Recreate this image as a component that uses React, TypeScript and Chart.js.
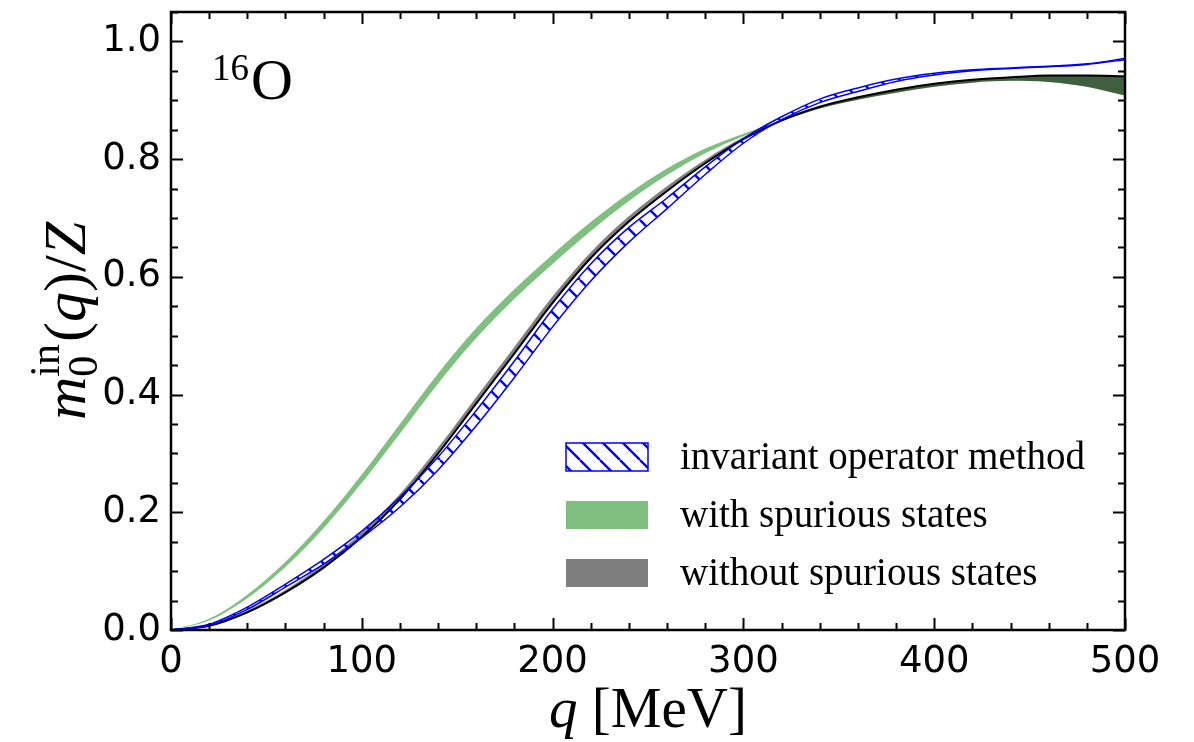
import React, { useEffect, useRef } from "react";
import { Chart, registerables } from "chart.js";

Chart.register(...registerables);

// momentum transfer grid [MeV]
const qValues = [0, 20, 40, 60, 80, 100, 120, 140, 160, 180, 200, 220, 240, 260, 280, 300, 320, 340, 360, 380, 400, 420, 440, 460, 480, 500];

// band: with spurious states
const withSpuriousLow = [0, 0.016, 0.054, 0.107, 0.173, 0.25, 0.334, 0.419, 0.496, 0.563, 0.622, 0.678, 0.729, 0.773, 0.81, 0.839, 0.864, 0.886, 0.901, 0.913, 0.923, 0.93, 0.933, 0.931, 0.923, 0.908];
const withSpuriousHigh = [0, 0.019, 0.06, 0.116, 0.185, 0.264, 0.35, 0.436, 0.513, 0.579, 0.638, 0.693, 0.742, 0.784, 0.818, 0.843, 0.866, 0.889, 0.905, 0.918, 0.928, 0.935, 0.939, 0.942, 0.942, 0.941];

// band: without spurious states
const withoutSpuriousLow = [0, 0.007, 0.03, 0.064, 0.106, 0.158, 0.222, 0.3, 0.385, 0.47, 0.556, 0.632, 0.694, 0.746, 0.793, 0.834, 0.864, 0.886, 0.901, 0.913, 0.923, 0.93, 0.933, 0.931, 0.923, 0.908];
const withoutSpuriousHigh = [0, 0.008, 0.033, 0.068, 0.112, 0.166, 0.231, 0.31, 0.396, 0.481, 0.567, 0.642, 0.703, 0.754, 0.799, 0.837, 0.866, 0.889, 0.905, 0.918, 0.928, 0.935, 0.939, 0.942, 0.942, 0.941];
const withoutSpuriousLine = [0, 0.007, 0.03, 0.064, 0.106, 0.158, 0.222, 0.3, 0.385, 0.47, 0.556, 0.632, 0.694, 0.746, 0.793, 0.834, 0.866, 0.889, 0.905, 0.918, 0.928, 0.935, 0.939, 0.942, 0.942, 0.941];

// band: invariant operator method
const invariantLow = [0, 0.008, 0.035, 0.073, 0.112, 0.157, 0.209, 0.272, 0.347, 0.429, 0.515, 0.593, 0.659, 0.716, 0.774, 0.827, 0.867, 0.896, 0.915, 0.932, 0.943, 0.95, 0.954, 0.957, 0.961, 0.969];
const invariantHigh = [0, 0.01, 0.039, 0.078, 0.12, 0.168, 0.226, 0.294, 0.373, 0.457, 0.545, 0.622, 0.684, 0.734, 0.787, 0.835, 0.872, 0.902, 0.921, 0.936, 0.946, 0.952, 0.955, 0.958, 0.962, 0.971];

const xMajorTicks = [0, 100, 200, 300, 400, 500];
const yMajorTicks = [0, 0.2, 0.4, 0.6, 0.8, 1.0];
const xMinorStep = 20;
const yMinorStep = 0.05;

const legendLabels = ["invariant operator method", "with spurious states", "without spurious states"];

const GREEN_FILL = "rgba(0,128,0,0.5)";
const GRAY_FILL = "rgba(0,0,0,0.5)";
const BLUE = "#0000ff";
const SERIF = "'Liberation Serif', 'Times New Roman', serif";
const SANS = "'DejaVu Sans', sans-serif";

function toPoints(vals: number[]) {
  return qValues.map((q, i) => ({ x: q, y: vals[i] }));
}

function makeHatch(): CanvasPattern | string {
  const s = 20;
  const c = document.createElement("canvas");
  c.width = s;
  c.height = s;
  const g = c.getContext("2d");
  if (!g) return "rgba(0,0,255,0.2)";
  g.strokeStyle = BLUE;
  g.lineWidth = 2.4;
  g.beginPath();
  for (let k = -1; k <= 1; k++) {
    g.moveTo(k * s, 0);
    g.lineTo(k * s + s, s);
  }
  g.stroke();
  const p = g.createPattern(c, "repeat");
  return p || "rgba(0,0,255,0.2)";
}

type Run = { t: string; italic?: boolean; size: number; dy?: number };

function drawRuns(ctx: CanvasRenderingContext2D, runs: Run[], x0: number, y0: number) {
  let x = x0;
  for (const r of runs) {
    ctx.font = `${r.italic ? "italic " : ""}${r.size}px ${SERIF}`;
    ctx.fillText(r.t, x, y0 + (r.dy || 0));
    x += ctx.measureText(r.t).width;
  }
}

function runsWidth(ctx: CanvasRenderingContext2D, runs: Run[]) {
  let w = 0;
  for (const r of runs) {
    ctx.font = `${r.italic ? "italic " : ""}${r.size}px ${SERIF}`;
    w += ctx.measureText(r.t).width;
  }
  return w;
}

export default function App() {
  const canvasRef = useRef<HTMLCanvasElement | null>(null);

  useEffect(() => {
    const canvas = canvasRef.current;
    if (!canvas) return;
    const hatch = makeHatch();

    const decorations = {
      id: "decorations",
      afterDraw(chart: any) {
        const ctx: CanvasRenderingContext2D = chart.ctx;
        const area = chart.chartArea;
        const xs = chart.scales.x;
        const ys = chart.scales.y;
        ctx.save();

        // inward ticks on all four sides
        ctx.strokeStyle = "#000";
        ctx.lineWidth = 2;
        const majLen = 12;
        const minLen = 7;
        for (let q = 0; q <= 500 + 1e-9; q += xMinorStep) {
          const px = Math.round(xs.getPixelForValue(q)) + 0.5;
          const major = xMajorTicks.some((t) => Math.abs(t - q) < 1e-6);
          const len = major ? majLen : minLen;
          ctx.beginPath();
          ctx.moveTo(px, area.bottom);
          ctx.lineTo(px, area.bottom - len);
          ctx.moveTo(px, area.top);
          ctx.lineTo(px, area.top + len);
          ctx.stroke();
        }
        for (let k = 0; k <= 21; k++) {
          const v = k * yMinorStep;
          if (v > 1.05 + 1e-9) break;
          const py = Math.round(ys.getPixelForValue(v)) + 0.5;
          const major = yMajorTicks.some((t) => Math.abs(t - v) < 1e-6);
          const len = major ? majLen : minLen;
          ctx.beginPath();
          ctx.moveTo(area.left, py);
          ctx.lineTo(area.left + len, py);
          ctx.moveTo(area.right, py);
          ctx.lineTo(area.right - len, py);
          ctx.stroke();
        }

        // frame
        ctx.lineWidth = 2.5;
        ctx.strokeRect(area.left, area.top, area.right - area.left, area.bottom - area.top);

        // legend
        const boxX = 566;
        const boxW = 82;
        const boxH = 28;
        const rowY = [457, 515, 573];
        const fills: string[] = ["", GREEN_FILL, GRAY_FILL];
        legendLabels.forEach((label, i) => {
          const top = rowY[i] - boxH / 2;
          if (i === 0) {
            ctx.fillStyle = "#fff";
            ctx.fillRect(boxX, top, boxW, boxH);
            ctx.save();
            ctx.beginPath();
            ctx.rect(boxX, top, boxW, boxH);
            ctx.clip();
            ctx.fillStyle = hatch;
            ctx.fillRect(boxX, top, boxW, boxH);
            ctx.restore();
            ctx.strokeStyle = BLUE;
            ctx.lineWidth = 1.5;
            ctx.strokeRect(boxX, top, boxW, boxH);
          } else {
            ctx.fillStyle = fills[i];
            ctx.fillRect(boxX, top, boxW, boxH);
          }
          ctx.fillStyle = "#000";
          ctx.font = `39px ${SERIF}`;
          ctx.textAlign = "left";
          ctx.textBaseline = "alphabetic";
          ctx.fillText(label, 680, rowY[i] + 12);
        });

        // nucleus annotation
        ctx.fillStyle = "#000";
        ctx.textAlign = "left";
        ctx.textBaseline = "alphabetic";
        ctx.font = `37px ${SERIF}`;
        ctx.fillText("16", 212, 80);
        ctx.font = `58px ${SERIF}`;
        ctx.fillText("O", 251, 99);

        // x-axis title
        const xRuns: Run[] = [
          { t: "q", italic: true, size: 57 },
          { t: " [MeV]", size: 57 },
        ];
        const xw = runsWidth(ctx, xRuns);
        drawRuns(ctx, xRuns, (area.left + area.right) / 2 - xw / 2, 727);

        // y-axis title, rotated
        ctx.save();
        ctx.translate(85, (area.top + area.bottom) / 2);
        ctx.rotate(-Math.PI / 2);
        const S = 60;
        const scr = Math.round(S * 0.7);
        const pre: Run[] = [{ t: "m", italic: true, size: S }];
        const post: Run[] = [
          { t: "(", size: S },
          { t: "q", italic: true, size: S },
          { t: ")", size: S },
          { t: "/", size: S },
          { t: "Z", italic: true, size: S },
        ];
        ctx.font = `${scr}px ${SERIF}`;
        const subW = ctx.measureText("0").width;
        const supW = ctx.measureText("in").width;
        const scriptW = Math.max(subW, supW);
        const total = runsWidth(ctx, pre) + scriptW + 2 + runsWidth(ctx, post);
        let x0 = -total / 2;
        drawRuns(ctx, pre, x0, 0);
        x0 += runsWidth(ctx, pre);
        ctx.font = `${scr}px ${SERIF}`;
        ctx.fillText("0", x0, 12);
        ctx.fillText("in", x0, -26);
        x0 += scriptW + 2;
        drawRuns(ctx, post, x0, 0);
        ctx.restore();

        ctx.restore();
      },
    };

    const lineBase = {
      pointRadius: 0,
      cubicInterpolationMode: "monotone" as const,
      borderColor: "rgba(0,0,0,0)",
      borderWidth: 0,
    };

    const chart = new Chart(canvas, {
      type: "line",
      data: {
        datasets: [
          { ...lineBase, label: "with-low", data: toPoints(withSpuriousLow), fill: false, order: 10 },
          { ...lineBase, label: "with-high", data: toPoints(withSpuriousHigh), fill: "-1", backgroundColor: GREEN_FILL, order: 10 },
          { ...lineBase, label: "without-low", data: toPoints(withoutSpuriousLow), fill: false, order: 8 },
          { ...lineBase, label: "without-high", data: toPoints(withoutSpuriousHigh), fill: "-1", backgroundColor: GRAY_FILL, order: 8 },
          { ...lineBase, label: "without-line", data: toPoints(withoutSpuriousLine), fill: false, borderColor: "#000", borderWidth: 2, order: 6 },
          { ...lineBase, label: "invariant-low", data: toPoints(invariantLow), fill: false, borderColor: BLUE, borderWidth: 1.5, order: 2 },
          { ...lineBase, label: "invariant-high", data: toPoints(invariantHigh), fill: "-1", backgroundColor: hatch as any, borderColor: BLUE, borderWidth: 1.5, order: 2 },
        ],
      },
      options: {
        animation: false,
        responsive: false,
        devicePixelRatio: 1,
        layout: { padding: { left: 0, top: 12, right: 69, bottom: 0 } },
        plugins: { legend: { display: false }, tooltip: { enabled: false } },
        scales: {
          x: {
            type: "linear",
            min: 0,
            max: 500,
            grid: { display: false, drawTicks: false },
            border: { display: false },
            afterBuildTicks: (scale: any) => {
              scale.ticks = xMajorTicks.map((value) => ({ value }));
            },
            afterFit: (scale: any) => {
              scale.height = 112;
              scale.paddingLeft = 0;
              scale.paddingRight = 0;
            },
            ticks: {
              padding: 10,
              color: "#000",
              font: { family: SANS, size: 37 },
              maxRotation: 0,
              callback: (v: any) => String(v),
            },
          },
          y: {
            type: "linear",
            min: 0,
            max: 1.05,
            grid: { display: false, drawTicks: false },
            border: { display: false },
            afterBuildTicks: (scale: any) => {
              scale.ticks = yMajorTicks.map((value) => ({ value }));
            },
            afterFit: (scale: any) => {
              scale.width = 171;
              scale.paddingTop = 0;
              scale.paddingBottom = 0;
            },
            ticks: {
              padding: 10,
              color: "#000",
              font: { family: SANS, size: 37 },
              callback: (v: any) => Number(v).toFixed(1),
            },
          },
        },
      },
      plugins: [decorations],
    });

    return () => chart.destroy();
  }, []);

  return (
    <div style={{ position: "fixed", left: 0, top: 0, width: 1194, height: 742, background: "#fff" }}>
      <canvas ref={canvasRef} width={1194} height={742} />
    </div>
  );
}
